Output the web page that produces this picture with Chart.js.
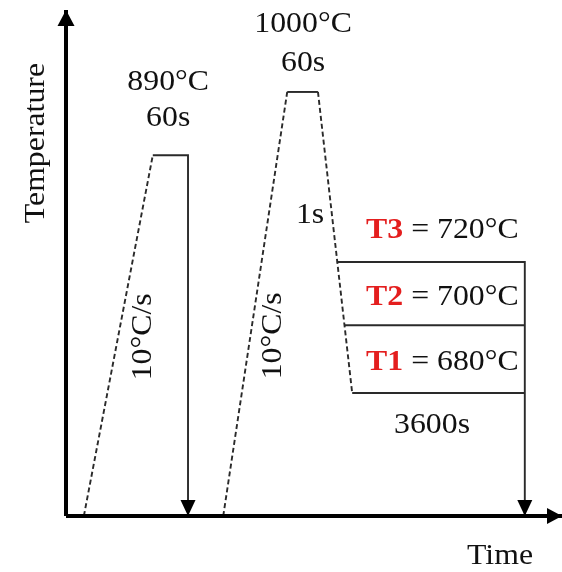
<!DOCTYPE html>
<html>
<head>
<meta charset="utf-8">
<script src="https://cdn.jsdelivr.net/npm/chart.js@4/dist/chart.umd.min.js"></script>
<style>
  html, body { margin: 0; padding: 0; background: #fff; }
  #wrap { width: 562px; height: 572px; }
</style>
</head>
<body>
<div id="wrap"><canvas id="grafico"></canvas></div>
<script>
// schematic units: time 0..100, temperature 0..100 (no real ticks on the figure)
const axisTimeX = [0, 100];
const axisTimeY = [0, 0];
const axisTempX = [0, 0];
const axisTempY = [0, 100];

const heat1X = [3.6, 17.5];
const heat1Y = [0, 71.3];
const hold1X = [17.5, 24.6, 24.6];
const hold1Y = [71.3, 71.3, 0];

const heat2X = [31.7, 44.6];
const heat2Y = [0, 83.8];
const hold2X = [44.6, 50.8];
const hold2Y = [83.8, 83.8];
const quenchX = [50.8, 57.7];
const quenchY = [83.8, 24.3];

const isoT1X = [57.7, 92.5];
const isoT1Y = [24.3, 24.3];
const isoT2X = [56.1, 92.5];
const isoT2Y = [37.7, 37.7];
const isoT3X = [54.6, 92.5, 92.5];
const isoT3Y = [50.2, 50.2, 0];

// annotations: text and anchor in schematic units
const labelTexts = ['890°C', '60s', '1000°C', '60s', '1s', '3600s', 'Time'];
const labelX = [20.6, 20.6, 47.8, 47.8, 49.2, 73.8, 87.5];
const labelY = [85.8, 78.7, 97.2, 89.5, 59.5, 18.0, -7.9];

const rateTexts = ['10°C/s', '10°C/s', 'Temperature'];
const rateX = [15.6, 41.8, -6.0];
const rateY = [35.4, 35.6, 73.7];

const isoNames = ['T3', 'T2', 'T1'];
const isoValues = ['720°C', '700°C', '680°C'];
const isoLabelY = [56.5, 43.3, 30.4];
const isoLabelX = 60.5;

function pts(xs, ys) {
    return xs.map((x, i) => ({ x: x, y: ys[i] }));
}

function linea(xs, ys, opts) {
    return Object.assign({
        data: pts(xs, ys),
        showLine: true,
        borderColor: '#2a2a2a',
        borderWidth: 1.9,
        pointRadius: 0,
        fill: false,
        clip: false
    }, opts || {});
}

const FONT = '30px "Liberation Serif", "Times New Roman", serif';
const FONT_B = 'bold 30px "Liberation Serif", "Times New Roman", serif';
const STRETCH = 1.06;

const flechas = {
    id: 'flechas',
    afterDatasetsDraw(chart) {
        const ctx = chart.ctx;
        chart.data.datasets.forEach((ds, i) => {
            if (!ds.arrow) return;
            const els = chart.getDatasetMeta(i).data;
            const a = els[els.length - 2], b = els[els.length - 1];
            const ang = Math.atan2(b.y - a.y, b.x - a.x);
            const L = ds.arrow.len, W = ds.arrow.half;
            ctx.save();
            ctx.translate(b.x, b.y);
            ctx.rotate(ang);
            ctx.fillStyle = '#000';
            ctx.beginPath();
            ctx.moveTo(0, 0);
            ctx.lineTo(-L, -W);
            ctx.lineTo(-L, W);
            ctx.closePath();
            ctx.fill();
            ctx.restore();
        });
    }
};

const textos = {
    id: 'textos',
    afterDraw(chart) {
        const ctx = chart.ctx;
        const sx = chart.scales.x, sy = chart.scales.y;
        ctx.save();
        ctx.textBaseline = 'middle';
        ctx.fillStyle = '#111';

        labelTexts.forEach((t, i) => {
            ctx.save();
            ctx.translate(sx.getPixelForValue(labelX[i]), sy.getPixelForValue(labelY[i]));
            ctx.scale(STRETCH, 1);
            ctx.font = FONT;
            ctx.textAlign = 'center';
            ctx.fillText(t, 0, 0);
            ctx.restore();
        });

        rateTexts.forEach((t, i) => {
            ctx.save();
            ctx.translate(sx.getPixelForValue(rateX[i]), sy.getPixelForValue(rateY[i]));
            ctx.rotate(-Math.PI / 2);
            ctx.scale(STRETCH, 1);
            ctx.font = FONT;
            ctx.textAlign = 'center';
            ctx.fillText(t, 0, 0);
            ctx.restore();
        });

        isoNames.forEach((n, i) => {
            ctx.save();
            ctx.translate(sx.getPixelForValue(isoLabelX), sy.getPixelForValue(isoLabelY[i]));
            ctx.scale(STRETCH, 1);
            ctx.textAlign = 'left';
            ctx.font = FONT_B;
            ctx.fillStyle = '#e41e1e';
            ctx.fillText(n, 0, 0);
            const w = ctx.measureText(n).width;
            ctx.font = FONT;
            ctx.fillStyle = '#111';
            ctx.fillText(' = ' + isoValues[i], w, 0);
            ctx.restore();
        });
        ctx.restore();
    }
};

const dash = [5, 3];

new Chart(document.getElementById('grafico').getContext('2d'), {
    type: 'scatter',
    data: {
        datasets: [
            linea(axisTimeX, axisTimeY, { borderColor: '#000', borderWidth: 4, arrow: { len: 15, half: 8 } }),
            linea(axisTempX, axisTempY, { borderColor: '#000', borderWidth: 4, arrow: { len: 16, half: 8.5 } }),
            linea(heat1X, heat1Y, { borderDash: dash }),
            linea(hold1X, hold1Y, { arrow: { len: 16, half: 7.5 } }),
            linea(heat2X, heat2Y, { borderDash: dash }),
            linea(hold2X, hold2Y),
            linea(quenchX, quenchY, { borderDash: dash }),
            linea(isoT1X, isoT1Y),
            linea(isoT2X, isoT2Y),
            linea(isoT3X, isoT3Y, { arrow: { len: 16, half: 7.5 } })
        ]
    },
    options: {
        responsive: true,
        maintainAspectRatio: false,
        animation: false,
        layout: { padding: { left: 66, top: 10, right: 0, bottom: 56 } },
        plugins: {
            legend: { display: false },
            tooltip: { enabled: false }
        },
        scales: {
            x: { type: 'linear', min: 0, max: 100, display: false },
            y: { type: 'linear', min: 0, max: 100, display: false }
        }
    },
    plugins: [flechas, textos]
});
</script>
</body>
</html>
